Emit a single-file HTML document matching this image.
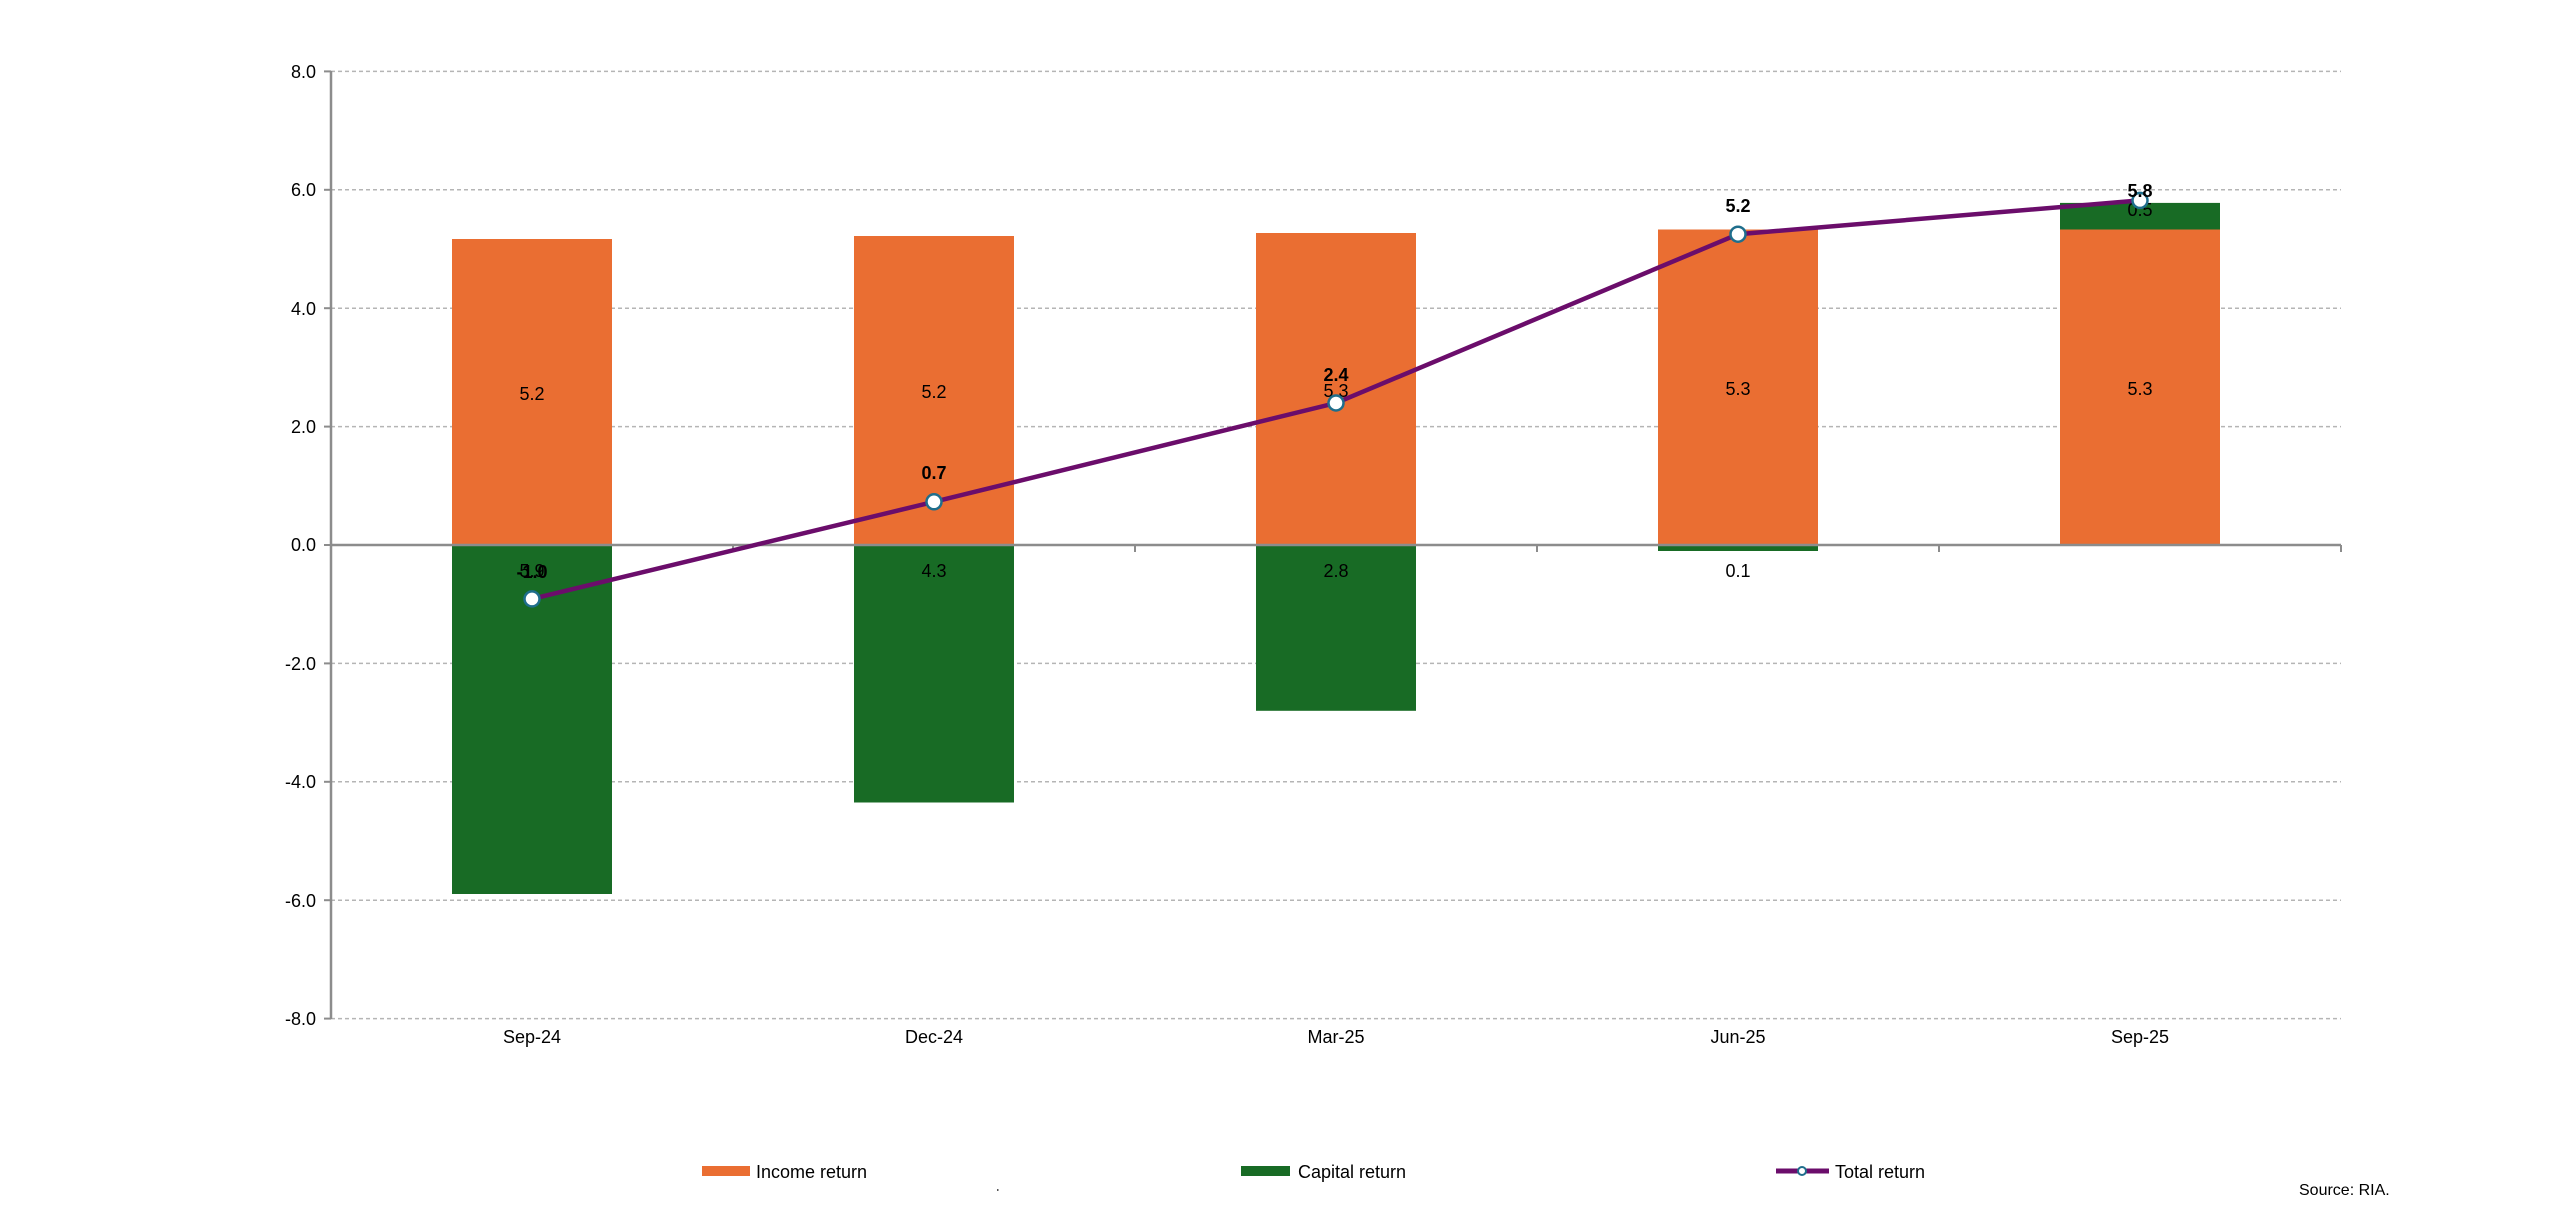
<!DOCTYPE html>
<html><head><meta charset="utf-8"><style>
html,body{margin:0;padding:0;background:#fff;}
svg{display:block;font-family:"Liberation Sans",Arial,sans-serif;}
</style></head><body>
<svg width="2560" height="1222" viewBox="0 0 2560 1222" xmlns="http://www.w3.org/2000/svg">
<g stroke="#b5b5b5" stroke-width="1.5" stroke-dasharray="4,3">
<line x1="331" y1="71.4" x2="2341" y2="71.4"/>
<line x1="331" y1="189.8" x2="2341" y2="189.8"/>
<line x1="331" y1="308.2" x2="2341" y2="308.2"/>
<line x1="331" y1="426.6" x2="2341" y2="426.6"/>
<line x1="331" y1="663.4" x2="2341" y2="663.4"/>
<line x1="331" y1="781.8" x2="2341" y2="781.8"/>
<line x1="331" y1="900.2" x2="2341" y2="900.2"/>
<line x1="331" y1="1018.6" x2="2341" y2="1018.6"/>
</g>
<g fill="#EA6E32">
<rect x="452" y="239" width="160" height="306"/>
<rect x="854" y="236" width="160" height="309"/>
<rect x="1256" y="233" width="160" height="312"/>
<rect x="1658" y="229.5" width="160" height="315.5"/>
<rect x="2060" y="229.5" width="160" height="315.5"/>
</g>
<g fill="#186B25">
<rect x="452" y="545" width="160" height="349"/>
<rect x="854" y="545" width="160" height="257.5"/>
<rect x="1256" y="545" width="160" height="165.8"/>
<rect x="1658" y="545" width="160" height="6"/>
<rect x="2060" y="202.9" width="160" height="26.6"/>
</g>
<g stroke="#8c8c8c" stroke-width="2.5" fill="none">
<line x1="331" y1="71" x2="331" y2="1019"/>
<line x1="331" y1="545" x2="2341" y2="545"/>
</g>
<g stroke="#8c8c8c" stroke-width="2">
<line x1="324" y1="71.4" x2="331" y2="71.4"/><line x1="324" y1="189.8" x2="331" y2="189.8"/>
<line x1="324" y1="308.2" x2="331" y2="308.2"/><line x1="324" y1="426.6" x2="331" y2="426.6"/>
<line x1="324" y1="545" x2="331" y2="545"/><line x1="324" y1="663.4" x2="331" y2="663.4"/>
<line x1="324" y1="781.8" x2="331" y2="781.8"/><line x1="324" y1="900.2" x2="331" y2="900.2"/>
<line x1="324" y1="1018.6" x2="331" y2="1018.6"/>
<line x1="733" y1="545" x2="733" y2="552"/><line x1="1135" y1="545" x2="1135" y2="552"/>
<line x1="1537" y1="545" x2="1537" y2="552"/><line x1="1939" y1="545" x2="1939" y2="552"/>
<line x1="2341" y1="545" x2="2341" y2="552"/>
</g>
<g font-size="18" fill="#000" text-anchor="end">
<text x="316" y="78">8.0</text><text x="316" y="196">6.0</text><text x="316" y="315">4.0</text>
<text x="316" y="433">2.0</text><text x="316" y="551">0.0</text><text x="316" y="670">-2.0</text>
<text x="316" y="788">-4.0</text><text x="316" y="907">-6.0</text><text x="316" y="1025">-8.0</text>
</g>
<g font-size="18" fill="#000" text-anchor="middle">
<text x="532" y="1043">Sep-24</text><text x="934" y="1043">Dec-24</text><text x="1336" y="1043">Mar-25</text>
<text x="1738" y="1043">Jun-25</text><text x="2140" y="1043">Sep-25</text>
<text x="532" y="400">5.2</text><text x="934" y="398">5.2</text><text x="1336" y="397">5.3</text>
<text x="1738" y="395">5.3</text><text x="2140" y="395">5.3</text>
<text x="532" y="577">5.9</text><text x="934" y="577">4.3</text><text x="1336" y="577">2.8</text>
<text x="1738" y="577">0.1</text><text x="2140" y="216">0.5</text>
</g>
<polyline points="532,598.9 934,501.8 1336,403 1738,234.2 2140,200.4" fill="none" stroke="#6B0D6B" stroke-width="4.5"/>
<g fill="#fff" stroke="#1F6E8C" stroke-width="2.5">
<circle cx="532" cy="598.9" r="7.5"/><circle cx="934" cy="501.8" r="7.5"/><circle cx="1336" cy="403" r="7.5"/>
<circle cx="1738" cy="234.2" r="7.5"/><circle cx="2140" cy="200.4" r="7.5"/>
</g>
<g font-size="18" font-weight="bold" fill="#000" text-anchor="middle">
<text x="532" y="578">-1.0</text><text x="934" y="479">0.7</text><text x="1336" y="381">2.4</text>
<text x="1738" y="212">5.2</text><text x="2140" y="197">5.8</text>
</g>
<rect x="702" y="1166" width="48" height="10" fill="#EA6E32"/>
<text x="756" y="1178" font-size="18">Income return</text>
<rect x="1241" y="1166" width="49" height="10" fill="#186B25"/>
<text x="1298" y="1178" font-size="18">Capital return</text>
<line x1="1776" y1="1171" x2="1829" y2="1171" stroke="#6B0D6B" stroke-width="5"/>
<circle cx="1802" cy="1171" r="4" fill="#fff" stroke="#1F6E8C" stroke-width="2"/>
<text x="1835" y="1178" font-size="18">Total return</text>
<text x="2299" y="1195" font-size="16">Source: RIA.</text>
<rect x="997" y="1189" width="1.5" height="2" fill="#555"/>
</svg>
</body></html>
